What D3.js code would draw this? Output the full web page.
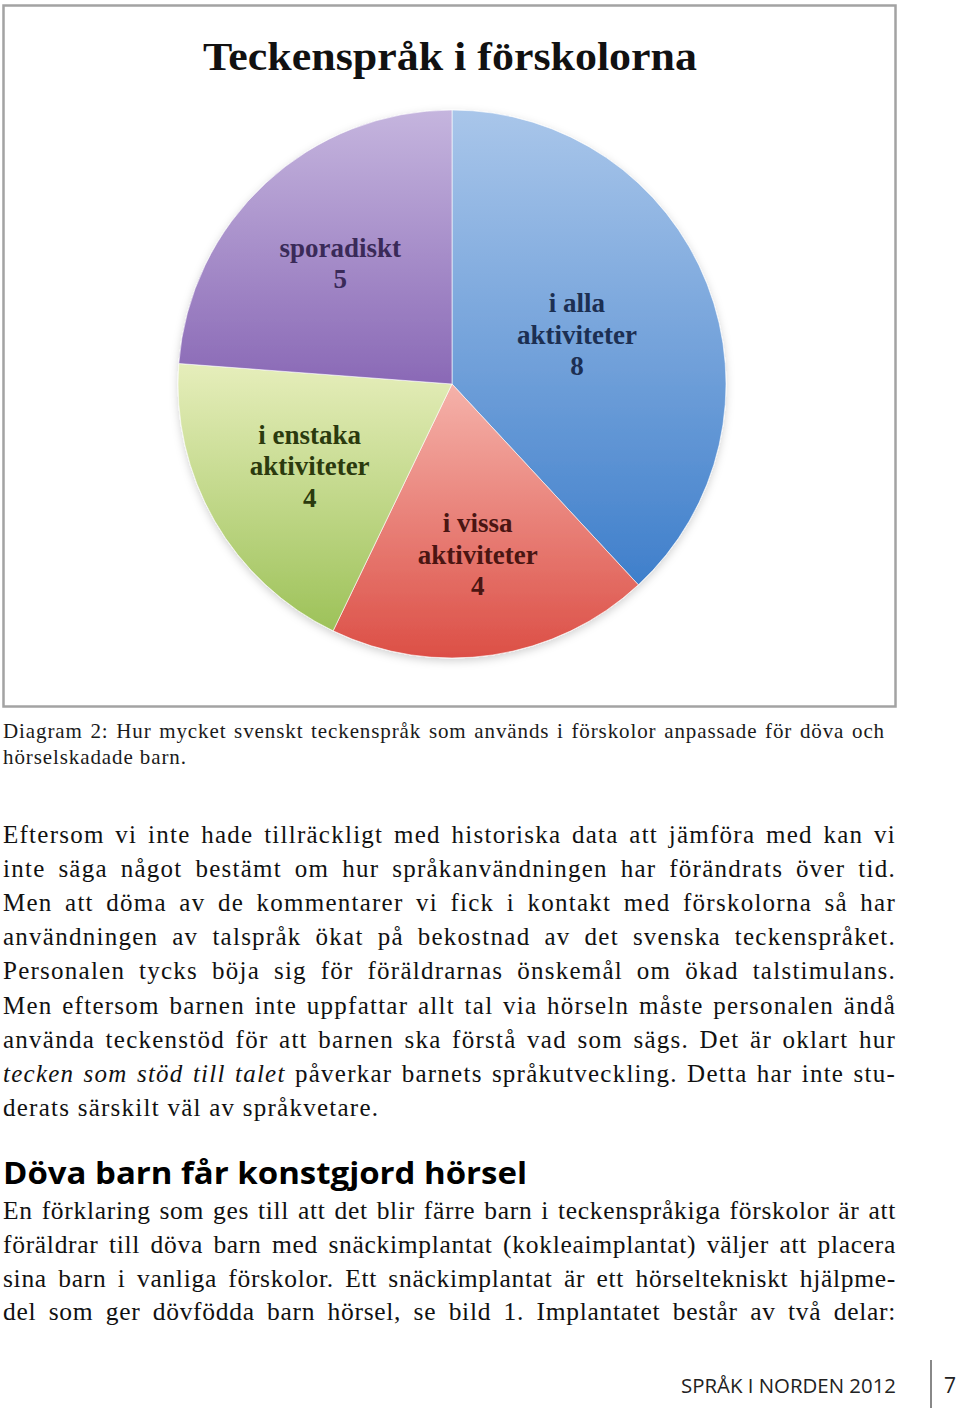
<!DOCTYPE html>
<html><head><meta charset="utf-8">
<script src="https://cdn.jsdelivr.net/npm/d3@7"></script>
<style>html,body{margin:0;padding:0;background:#fff;}svg{display:block;}</style>
</head><body>
<script>
// ---- data ----
const chartTitle = "Teckenspråk i förskolorna";
const categories = ["i alla aktiviteter", "i vissa aktiviteter", "i enstaka aktiviteter", "sporadiskt"];
const labelLines = [["i alla", "aktiviteter"], ["i vissa", "aktiviteter"], ["i enstaka", "aktiviteter"], ["sporadiskt"]];
const counts = [8, 4, 4, 5];

const captionLines = [
  "Diagram 2: Hur mycket svenskt teckenspråk som används i förskolor anpassade för döva och",
  "hörselskadade barn."
];
const para1 = [
  [{t:"Eftersom vi inte hade tillräckligt med historiska data att jämföra med kan vi"}],
  [{t:"inte säga något bestämt om hur språkanvändningen har förändrats över tid."}],
  [{t:"Men att döma av de kommentarer vi fick i kontakt med förskolorna så har"}],
  [{t:"användningen av talspråk ökat på bekostnad av det svenska teckenspråket."}],
  [{t:"Personalen tycks böja sig för föräldrarnas önskemål om ökad talstimulans."}],
  [{t:"Men eftersom barnen inte uppfattar allt tal via hörseln måste personalen ändå"}],
  [{t:"använda teckenstöd för att barnen ska förstå vad som sägs. Det är oklart hur"}],
  [{t:"tecken som stöd till talet", i:true},{t:" påverkar barnets språkutveckling. Detta har inte stu-"}],
  [{t:"derats särskilt väl av språkvetare."}]
];
const heading = "Döva barn får konstgjord hörsel";
const para2 = [
  "En förklaring som ges till att det blir färre barn i teckenspråkiga förskolor är att",
  "föräldrar till döva barn med snäckimplantat (kokleaimplantat) väljer att placera",
  "sina barn i vanliga förskolor. Ett snäckimplantat är ett hörseltekniskt hjälpme-",
  "del som ger dövfödda barn hörsel, se bild 1. Implantatet består av två delar:"
];
const footerText = "SPRÅK I NORDEN 2012";
const pageNumber = "7";

// ---- styles ----
const gradStops = [["#a9c6ea", "#3f7fcb"], ["#f5b2aa", "#dc4f46"], ["#e6eebb", "#9dc259"], ["#c5b5de", "#8a69b6"]];
const textColors = ["#1c2f52", "#4a1512", "#2b3a0e", "#3a2a58"];
const labelRadius = [0.49, 0.63, 0.6, 0.6];

const W = 960, H = 1412;
const svg = d3.select("body").append("svg").attr("width", W).attr("height", H);
const defs = svg.append("defs");

gradStops.forEach((g, i) => {
  const lg = defs.append("linearGradient").attr("id", "g" + i)
    .attr("x1", 0).attr("y1", 0).attr("x2", 0).attr("y2", 1);
  lg.append("stop").attr("offset", "0%").attr("stop-color", g[0]);
  lg.append("stop").attr("offset", "100%").attr("stop-color", g[1]);
});
const f = defs.append("filter").attr("id", "sh").attr("x", "-10%").attr("y", "-10%").attr("width", "120%").attr("height", "120%");
f.append("feDropShadow").attr("dx", 0).attr("dy", 3).attr("stdDeviation", 4).attr("flood-color", "#000").attr("flood-opacity", 0.18);

// chart frame
svg.append("rect").attr("x", 3.5).attr("y", 5.5).attr("width", 892).attr("height", 701)
  .attr("fill", "#fff").attr("stroke", "#a3a3a3").attr("stroke-width", 2.5);

svg.append("text").attr("x", 450).attr("y", 70).attr("text-anchor", "middle")
  .attr("font-family", "Liberation Serif, serif").attr("font-weight", "bold").attr("font-size", 41)
  .attr("textLength", 494).attr("lengthAdjust", "spacingAndGlyphs").attr("fill", "#111").text(chartTitle);

const cx = 452, cy = 384, r = 274;
const pie = d3.pie().sort(null).value(d => d).startAngle(0).endAngle(2 * Math.PI);
const arcs = pie(counts);
const arc = d3.arc().innerRadius(0).outerRadius(r);
const g = svg.append("g").attr("transform", `translate(${cx},${cy})`);
g.append("g").attr("filter", "url(#sh)").selectAll("path").data(arcs).join("path")
  .attr("d", arc).attr("fill", (d, i) => `url(#g${i})`).attr("stroke", "#fff").attr("stroke-width", 0.6);

const lab = g.selectAll("g.lab").data(arcs).join("g").attr("class", "lab")
  .attr("transform", (d, i) => {
    const a = (d.startAngle + d.endAngle) / 2, rr = r * labelRadius[i];
    return `translate(${rr * Math.sin(a)},${-rr * Math.cos(a)})`;
  });
lab.each(function (d, i) {
  const lines = labelLines[i].concat([String(d.data)]);
  const n = lines.length, lh = 31.5;
  d3.select(this).selectAll("text").data(lines).join("text")
    .attr("x", 0).attr("y", (t, j) => (j - (n - 1) / 2) * lh + 9)
    .attr("text-anchor", "middle").attr("font-family", "Liberation Serif, serif")
    .attr("font-weight", "bold").attr("font-size", 27).attr("fill", textColors[i]).text(t => t);
});

// justified text helper: letter-spacing for the wide set, justification by word-spacing
function textLine(parent, parts, x, y, size, ls, target, fill) {
  const t = parent.append("text").attr("x", x).attr("y", y)
    .attr("font-family", "Liberation Serif, serif").attr("font-size", size)
    .attr("letter-spacing", ls).attr("fill", fill || "#111");
  parts.forEach(p => t.append("tspan").attr("font-style", p.i ? "italic" : null).text(p.t));
  if (target) {
    const natural = t.node().getComputedTextLength();
    const spaces = parts.map(p => p.t).join("").split(" ").length - 1;
    const extra = (target - natural) / Math.max(spaces, 1);
    t.attr("word-spacing", extra);
  }
  return t;
}

const body = svg.append("g");
// caption
captionLines.forEach((t, i) => {
  textLine(body, [{t}], 3, 738 + i * 26, 21, 0.9, i === 0 ? 882 : null, "#1a1a1a");
});

// paragraph 1
para1.forEach((parts, i) => {
  const last = i === para1.length - 1;
  textLine(body, parts, 3, 843 + i * 34.1, 25, 1.25, last ? null : 893);
});

// heading
svg.append("text").attr("x", 3).attr("y", 1184).attr("font-family", "Open Sans, sans-serif")
  .attr("font-weight", "bold").attr("font-size", 30).attr("fill", "#000")
  .attr("textLength", 524).attr("lengthAdjust", "spacingAndGlyphs").text(heading);

// paragraph 2
para2.forEach((t, i) => {
  textLine(body, [{t}], 3, 1219 + i * 33.8, 25.5, 0.7, 893);
});

// footer
svg.append("text").attr("x", 681).attr("y", 1393).attr("font-family", "Open Sans, sans-serif")
  .attr("font-size", 20).attr("fill", "#222").attr("textLength", 215).attr("lengthAdjust", "spacingAndGlyphs").text(footerText);
svg.append("line").attr("x1", 931).attr("x2", 931).attr("y1", 1360).attr("y2", 1408).attr("stroke", "#888").attr("stroke-width", 2);
svg.append("text").attr("x", 944).attr("y", 1393).attr("font-family", "Open Sans, sans-serif")
  .attr("font-size", 21).attr("fill", "#222").text(pageNumber);
</script>
</body></html>
